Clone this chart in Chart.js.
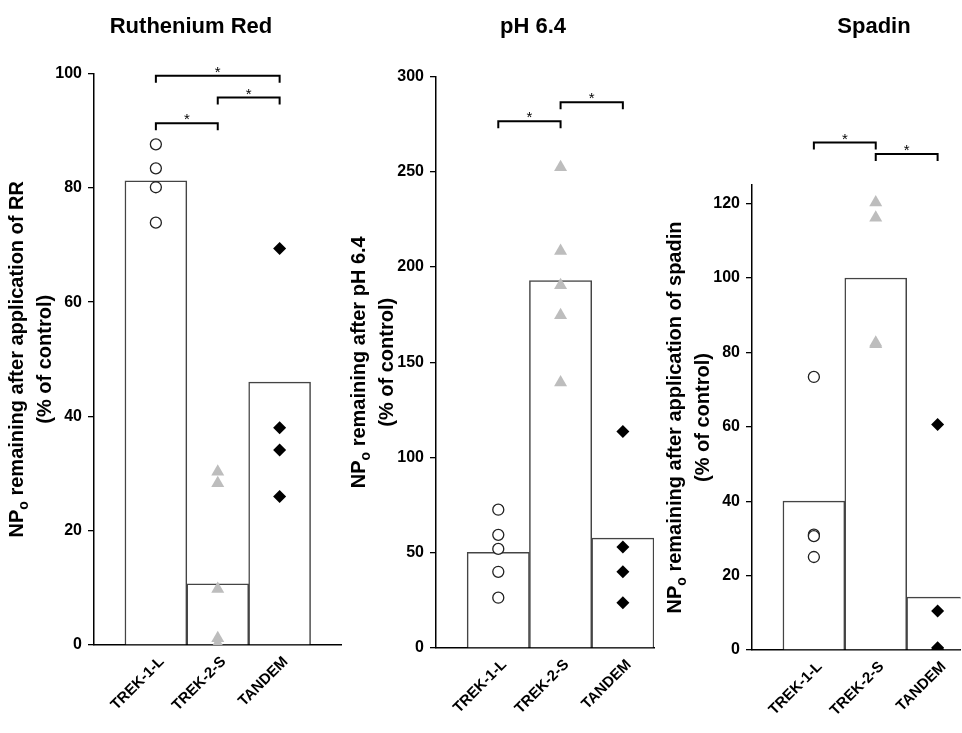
<!DOCTYPE html>
<html>
<head>
<meta charset="utf-8">
<script src="https://cdn.jsdelivr.net/npm/chart.js@4.4.0/dist/chart.umd.min.js"></script>
<style>
  html, body { margin: 0; padding: 0; background: #fff; overflow: hidden; }
  canvas { position: absolute; top: 0; }
</style>
</head>
<body>
<canvas id="c1" width="349" height="733" style="left:0px"></canvas>
<canvas id="c2" width="330" height="733" style="left:340px"></canvas>
<canvas id="c3" width="312" height="733" style="left:656px"></canvas>
<script>
var groups = ['TREK-1-L', 'TREK-2-S', 'TANDEM'];

// Ruthenium Red
var rrMeans = [81.2, 10.7, 46.0];
var rrTrek1 = [87.6, 83.4, 80.1, 73.9];
var rrTrek2 = [30.3, 28.3, 9.8, 1.2, 0.2];
var rrTandem = [69.4, 38.0, 34.1, 26.0];
var rrTicks = [0, 20, 40, 60, 80, 100];
var rrSig = [[1, 3, 99.6], [2, 3, 95.8], [1, 2, 91.3]];

// pH 6.4
var phMeans = [50.2, 192.9, 57.7];
var phTrek1 = [72.6, 59.4, 52.0, 40.0, 26.4];
var phTrek2 = [252.4, 208.4, 190.4, 174.7, 139.4];
var phTandem = [113.6, 53.0, 40.0, 23.8];
var phTicks = [0, 50, 100, 150, 200, 250, 300];
var phSig = [[1, 2, 276.5], [2, 3, 286.5]];

// Spadin
var spMeans = [40.0, 100.0, 14.2];
var spTrek1 = [73.4, 31.0, 30.6, 25.0];
var spTrek2 = [120.3, 116.2, 82.6, 82.2];
var spTandem = [60.6, 10.5, 0.6, 0.2];
var spTicks = [0, 20, 40, 60, 80, 100, 120];
var spSig = [[1, 2, 136.4], [2, 3, 133.3]];

var FONT = '"Liberation Sans", Arial, Helvetica, sans-serif';

function pts(i, arr) {
    return arr.map(function (v) { return {x: i, y: v}; });
}

// titles, y-axis titles with subscript, and significance brackets
var panelText = {
    id: 'panelText',
    afterDraw: function (chart, args, o) {
        var ctx = chart.ctx;
        var area = chart.chartArea;
        var xs = chart.scales.x, ys = chart.scales.y;
        ctx.save();
        ctx.fillStyle = '#000';

        // title
        ctx.font = 'bold 22px ' + FONT;
        ctx.textAlign = 'center';
        ctx.textBaseline = 'alphabetic';
        ctx.fillText(o.title, o.titleX, 33);

        // y title
        var cy = (area.top + area.bottom) / 2;
        var big = 'bold 20px ' + FONT, small = 'bold 14px ' + FONT;
        ctx.save();
        ctx.translate(area.left - 78, cy);
        ctx.rotate(-Math.PI / 2);
        ctx.textAlign = 'left';
        ctx.font = big;
        var wNP = ctx.measureText('NP').width;
        var rest = ' ' + o.yTitle;
        var wRest = ctx.measureText(rest).width;
        ctx.font = small;
        var wO = ctx.measureText('o').width;
        var x = -(wNP + wO + wRest) / 2;
        ctx.font = big; ctx.fillText('NP', x, 7); x += wNP;
        ctx.font = small; ctx.fillText('o', x, 12); x += wO;
        ctx.font = big; ctx.fillText(rest, x, 7);
        ctx.restore();

        ctx.save();
        ctx.translate(area.left - 50, cy);
        ctx.rotate(-Math.PI / 2);
        ctx.font = big;
        ctx.textAlign = 'center';
        ctx.fillText('(% of control)', 0, 7);
        ctx.restore();

        // brackets
        ctx.strokeStyle = '#000';
        ctx.lineWidth = 2;
        ctx.font = '15px ' + FONT;
        ctx.textAlign = 'center';
        o.sig.forEach(function (s) {
            var x1 = xs.getPixelForValue(s[0]);
            var x2 = xs.getPixelForValue(s[1]);
            var y = ys.getPixelForValue(s[2]);
            ctx.beginPath();
            ctx.moveTo(x1, y + 7);
            ctx.lineTo(x1, y);
            ctx.lineTo(x2, y);
            ctx.lineTo(x2, y + 7);
            ctx.stroke();
            ctx.fillText('*', (x1 + x2) / 2, y + 1);
        });
        ctx.restore();
    }
};

function makePanel(id, cfg) {
    var ctx = document.getElementById(id).getContext('2d');
    return new Chart(ctx, {
        type: 'bar',
        data: {
            datasets: [{
                type: 'scatter',
                data: pts(1, cfg.trek1),
                pointStyle: 'circle',
                pointRadius: 5.5,
                backgroundColor: '#fff',
                borderColor: '#222',
                borderWidth: 1.3,
                order: 1
            }, {
                type: 'scatter',
                data: pts(2, cfg.trek2),
                pointStyle: 'triangle',
                pointRadius: 7.5,
                backgroundColor: '#bdbdbd',
                borderColor: '#bdbdbd',
                borderWidth: 0,
                order: 1
            }, {
                type: 'scatter',
                data: pts(3, cfg.tandem),
                pointStyle: 'rectRot',
                pointRadius: 6.5,
                backgroundColor: '#000',
                borderColor: '#000',
                borderWidth: 0,
                order: 1
            }, {
                type: 'bar',
                data: cfg.means.map(function (v, i) { return {x: i + 1, y: v}; }),
                backgroundColor: '#fff',
                borderColor: '#444',
                borderWidth: 1.5,
                barPercentage: 1,
                categoryPercentage: 1,
                order: 10
            }]
        },
        options: {
            responsive: false,
            animation: false,
            events: [],
            layout: {padding: {left: 0, right: cfg.padRight, top: cfg.top, bottom: 0}},
            plugins: {
                legend: {display: false},
                tooltip: {enabled: false},
                panelText: {title: cfg.title, titleX: cfg.titleX, yTitle: cfg.yTitle, sig: cfg.sig}
            },
            scales: {
                x: {
                    type: 'linear',
                    min: 0,
                    max: cfg.xMax,
                    offset: false,
                    grid: {display: false, drawTicks: false, offset: false},
                    border: {display: true, color: '#000', width: 1.5},
                    ticks: {
                        autoSkip: false,
                        minRotation: 45,
                        maxRotation: 45,
                        padding: 8,
                        labelOffset: 6,
                        color: '#000',
                        font: {family: FONT, size: 15, weight: 'bold'},
                        callback: function (v) { return groups[v - 1] || ''; }
                    },
                    afterBuildTicks: function (s) {
                        s.ticks = groups.map(function (g, i) { return {value: i + 1}; });
                    },
                    afterFit: function (s) { s.height = cfg.xHeight; }
                },
                y: {
                    type: 'linear',
                    min: 0,
                    max: cfg.yMax,
                    grid: {display: true, drawOnChartArea: false, drawTicks: true, tickLength: 6, color: '#000', lineWidth: 1.3},
                    border: {display: true, color: '#000', width: 1.5},
                    ticks: {
                        padding: 6,
                        color: '#000',
                        font: {family: FONT, size: 16, weight: 'bold'}
                    },
                    afterBuildTicks: function (s) {
                        s.ticks = cfg.ticks.map(function (v) { return {value: v}; });
                    },
                    afterFit: function (s) { s.width = cfg.yWidth; }
                }
            }
        },
        plugins: [panelText]
    });
}

makePanel('c1', {
    title: 'Ruthenium Red', titleX: 191,
    yTitle: 'remaining after application of RR',
    means: rrMeans, trek1: rrTrek1, trek2: rrTrek2, tandem: rrTandem,
    ticks: rrTicks, yMax: 100, sig: rrSig, xMax: 4,
    top: 73.5, xHeight: 88, yWidth: 94, padRight: 0
});

makePanel('c2', {
    title: 'pH 6.4', titleX: 193,
    yTitle: 'remaining after pH 6.4',
    means: phMeans, trek1: phTrek1, trek2: phTrek2, tandem: phTandem,
    ticks: phTicks, yMax: 300, sig: phSig, xMax: 3.5,
    top: 76.5, xHeight: 85, yWidth: 96, padRight: 16
});

makePanel('c3', {
    title: 'Spadin', titleX: 218,
    yTitle: 'remaining after application of spadin',
    means: spMeans, trek1: spTrek1, trek2: spTrek2, tandem: spTandem,
    ticks: spTicks, yMax: 125, sig: spSig, xMax: 3.37,
    top: 185, xHeight: 83, yWidth: 96, padRight: 0
});
</script>
</body>
</html>
